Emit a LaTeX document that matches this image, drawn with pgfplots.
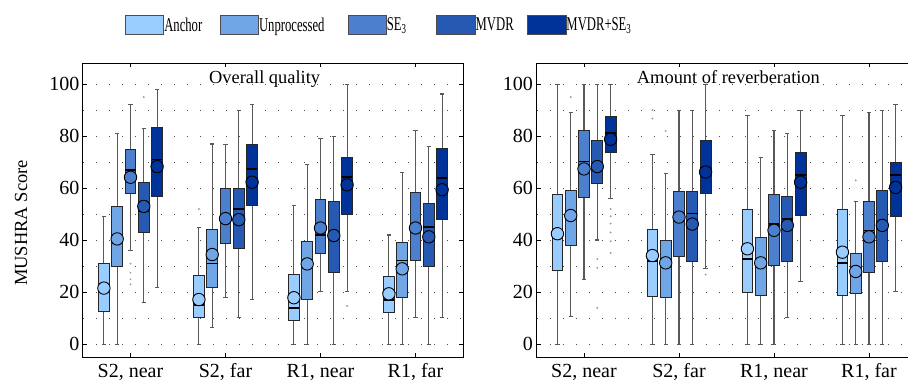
\documentclass[border=0pt]{standalone}
\usepackage{fontspec}
\setmainfont{Liberation Serif}
\usepackage{graphicx}
\usepackage{pgfplots}
\pgfplotsset{compat=1.18}
\usepgfplotslibrary{statistics}

\definecolor{cA}{RGB}{153,204,255}
\definecolor{cB}{RGB}{112,166,230}
\definecolor{cC}{RGB}{77,128,204}
\definecolor{cD}{RGB}{38,89,178}
\definecolor{cE}{RGB}{0,51,153}

\pgfplotsset{
  myax/.style={
    width=380pt, height=294pt, scale only axis,
    xmin=0.5, xmax=4.5, ymin=-5, ymax=108,
    clip=false,
    xtick={1,2,3,4},
    xticklabels={{S2, near},{S2, far},{R1, near},{R1, far}},
    ytick={0,20,...,100}, minor ytick={10,30,...,90},
    tick align=inside, major tick length=4pt, minor tick length=0pt,
    ymajorgrids, yminorgrids,
    major grid style={black!70, line width=0.7pt, dash pattern=on 1.2pt off 11.8pt},
    minor grid style={black!70, line width=0.7pt, dash pattern=on 1.2pt off 11.8pt},
    axis line style={line width=1pt, black},
    every tick/.style={black, line width=0.8pt},
    ticklabel style={font=\fontsize{20}{24}\selectfont},
    xticklabel style={yshift=-3pt},
    /pgf/number format/assume math mode=true,
    boxplot/draw direction=y,
    boxplot/every whisker/.style={draw=black!65, line width=1.1pt},
    boxplot/every median/.style={draw=black, line width=1.6pt},
  },
  meanmk/.style={forget plot, only marks, mark=*, mark size=6.2pt, mark options={fill=#1, draw=black, line width=0.9pt}},
  outl/.style={forget plot, only marks, mark=*, mark size=0.7pt, color=black!40},
}

% \bx{colour}{position}{lower whisker}{lower quartile}{median}{upper quartile}{upper whisker}
\newcommand{\bx}[7]{\addplot[forget plot, fill=#1, draw=black!85, line width=0.9pt, boxplot prepared={draw position=#2, lower whisker=#3, lower quartile=#4, median=#5, upper quartile=#6, upper whisker=#7, box extend=0.113, whisker extend=0.045}] coordinates {};}

\newcommand{\legimg}[1]{\addlegendimage{legend image code/.code={\draw[fill=#1, draw=black!70, line width=0.8pt] (0pt,-9.5pt) rectangle (38.5pt,9.5pt);}}}

\begin{document}
\begin{tikzpicture}
\useasboundingbox (0,0) rectangle (908pt,384pt);

% ---------------- Overall quality ----------------
\begin{axis}[myax, at={(83pt,26.7pt)}, anchor=south west,
  legend columns=5,
  legend style={at={(0.1105,1.13)}, anchor=west, draw=none, fill=none,
    inner sep=0pt, outer sep=0pt, font=\fontsize{19.5}{22}\selectfont,
    nodes={inner sep=0pt},
    /tikz/every even column/.append style={column sep=5.5pt}},
]
\legimg{cA}\addlegendentry{\makebox[50pt][l]{\scalebox{0.65}[1]{Anchor}}}
\legimg{cB}\addlegendentry{\makebox[83pt][l]{\scalebox{0.65}[1]{Unprocessed}}}
\legimg{cC}\addlegendentry{\makebox[44pt][l]{\scalebox{0.65}[1]{SE\textsubscript{3}}}}
\legimg{cD}\addlegendentry{\makebox[46pt][l]{\scalebox{0.65}[1]{MVDR}}}
\legimg{cE}\addlegendentry{\makebox[70pt][l]{\scalebox{0.65}[1]{MVDR+SE\textsubscript{3}}}}

% Anchor
\bx{cA}{0.72}{0}{12.5}{21}{31}{49}
\bx{cA}{1.72}{0}{10.2}{15}{26.4}{45}
\bx{cA}{2.72}{0}{9.2}{14}{27}{53.3}
\bx{cA}{3.72}{0}{12.1}{17}{26}{42}
\addplot[meanmk=cA] coordinates {(0.72,21.6) (1.72,17.2) (2.72,17.9) (3.72,19.4)};
\addplot[outl] coordinates {(1.72,52)};
% Unprocessed
\bx{cB}{0.86}{0}{30}{40}{53}{81}
\bx{cB}{1.86}{6.3}{22}{31}{44.3}{77}
\bx{cB}{2.86}{0}{17.2}{30}{39.5}{69}
\bx{cB}{3.86}{0}{18.1}{32.2}{39}{66}
\addplot[meanmk=cB] coordinates {(0.86,40.5) (1.86,34.5) (2.86,30.9) (3.86,29)};
% SE3
\bx{cC}{1}{36}{58.1}{67}{75}{92.2}
\bx{cC}{2}{18}{38.7}{48}{60}{76.9}
\bx{cC}{3}{20.2}{35}{41.9}{55.6}{79}
\bx{cC}{4}{10.2}{32.2}{44}{58.4}{82}
\addplot[meanmk=cC] coordinates {(1,64.2) (2,48.3) (3,44.7) (4,44.7)};
\addplot[outl] coordinates {(1,31) (1,27.5) (1,25) (1,23)};
% MVDR
\bx{cD}{1.14}{16}{43}{51}{62.3}{83}
\bx{cD}{2.14}{10.2}{37}{52}{60}{90}
\bx{cD}{3.14}{0}{27.5}{43}{54.9}{79.8}
\bx{cD}{4.14}{0}{30}{45}{54.3}{76}
\addplot[meanmk=cD] coordinates {(1.14,53) (2.14,47.9) (3.14,41.8) (4.14,41.3)};
\addplot[outl] coordinates {(1.14,95)};
% MVDR+SE3
\bx{cE}{1.28}{22}{57}{71}{83.4}{98}
\bx{cE}{2.28}{17.2}{53.3}{67.3}{76.9}{92.2}
\bx{cE}{3.28}{20.2}{50}{64.2}{71.9}{100}
\bx{cE}{4.28}{10.2}{47.9}{64}{75.4}{96.2}
\addplot[meanmk=cE] coordinates {(1.28,68.3) (2.28,62.3) (3.28,61.3) (4.28,59.4)};
\addplot[outl] coordinates {(3.28,14.7)};

\node[anchor=north, inner sep=0pt, font=\fontsize{18.4}{22}\selectfont] at (rel axis cs:0.478,0.977) {Overall quality};
\node[rotate=90, font=\fontsize{18.5}{22}\selectfont] at (rel axis cs:-0.163,0.457) {MUSHRA Score};
\end{axis}

% ---------------- Amount of reverberation ----------------
\begin{axis}[myax, at={(536.5pt,26.7pt)}, anchor=south west]
% Anchor
\bx{cA}{0.72}{0}{28.5}{42}{57.5}{100}
\bx{cA}{1.72}{0}{18.5}{31.9}{44}{72.8}
\bx{cA}{2.72}{0}{20}{32.8}{52}{87.9}
\bx{cA}{3.72}{0}{18.9}{31.3}{52}{87.9}
\addplot[meanmk=cA] coordinates {(0.72,42.5) (1.72,34.1) (2.72,36.7) (3.72,35.4)};
\addplot[outl] coordinates {(1.72,90) (1.72,86.8)};
% Unprocessed
\bx{cB}{0.86}{10.8}{38}{49}{59}{89}
\bx{cB}{1.86}{0}{17.9}{31}{40}{65.8}
\bx{cB}{2.86}{0}{18.9}{31}{40.9}{71.9}
\bx{cB}{3.86}{0}{19.4}{28}{35.1}{54.9}
\addplot[meanmk=cB] coordinates {(0.86,49.5) (1.86,31.3) (2.86,31.3) (3.86,28)};
\addplot[outl] coordinates {(0.86,95) (1.86,82) (3.86,63)};
% SE3
\bx{cC}{1}{25}{56.6}{70.2}{82}{100}
\bx{cC}{2}{0}{33.8}{49}{58.8}{90}
\bx{cC}{3}{0}{30.4}{46.2}{57.5}{82}
\bx{cC}{4}{0}{27.5}{43.8}{54.9}{89.1}
\addplot[meanmk=cC] coordinates {(1,67.4) (2,48.9) (3,43.8) (4,41.3)};
% MVDR
\bx{cD}{1.14}{40.1}{62}{68}{78.2}{100}
\bx{cD}{2.14}{0}{31.9}{50.2}{58.8}{90}
\bx{cD}{3.14}{10.2}{31.9}{48.1}{56.8}{81.1}
\bx{cD}{4.14}{0}{31.7}{46}{59}{90}
\addplot[meanmk=cD] coordinates {(1.14,68.3) (2.14,46.2) (3.14,45.7) (4.14,45.7)};
\addplot[outl] coordinates {(1.14,32.8) (1.14,29.4) (1.14,14)};
% MVDR+SE3
\bx{cE}{1.28}{56.2}{73.8}{81.1}{87.5}{100}
\bx{cE}{2.28}{29}{57.9}{68}{78.2}{100}
\bx{cE}{3.28}{24}{49.5}{65.1}{73.8}{90}
\bx{cE}{4.28}{20.2}{49.2}{65.1}{70}{92.2}
\addplot[meanmk=cE] coordinates {(1.28,78.8) (2.28,66.2) (3.28,62.3) (4.28,60.3)};
\addplot[outl] coordinates {(1.28,52) (1.28,49.2) (1.28,46.4) (1.28,43) (1.28,39.6) (1.28,35.1) (2.28,26.8)};

\node[anchor=north, inner sep=0pt, font=\fontsize{18.4}{22}\selectfont] at (rel axis cs:0.505,0.977) {Amount of reverberation};
\end{axis}
\end{tikzpicture}
\end{document}
